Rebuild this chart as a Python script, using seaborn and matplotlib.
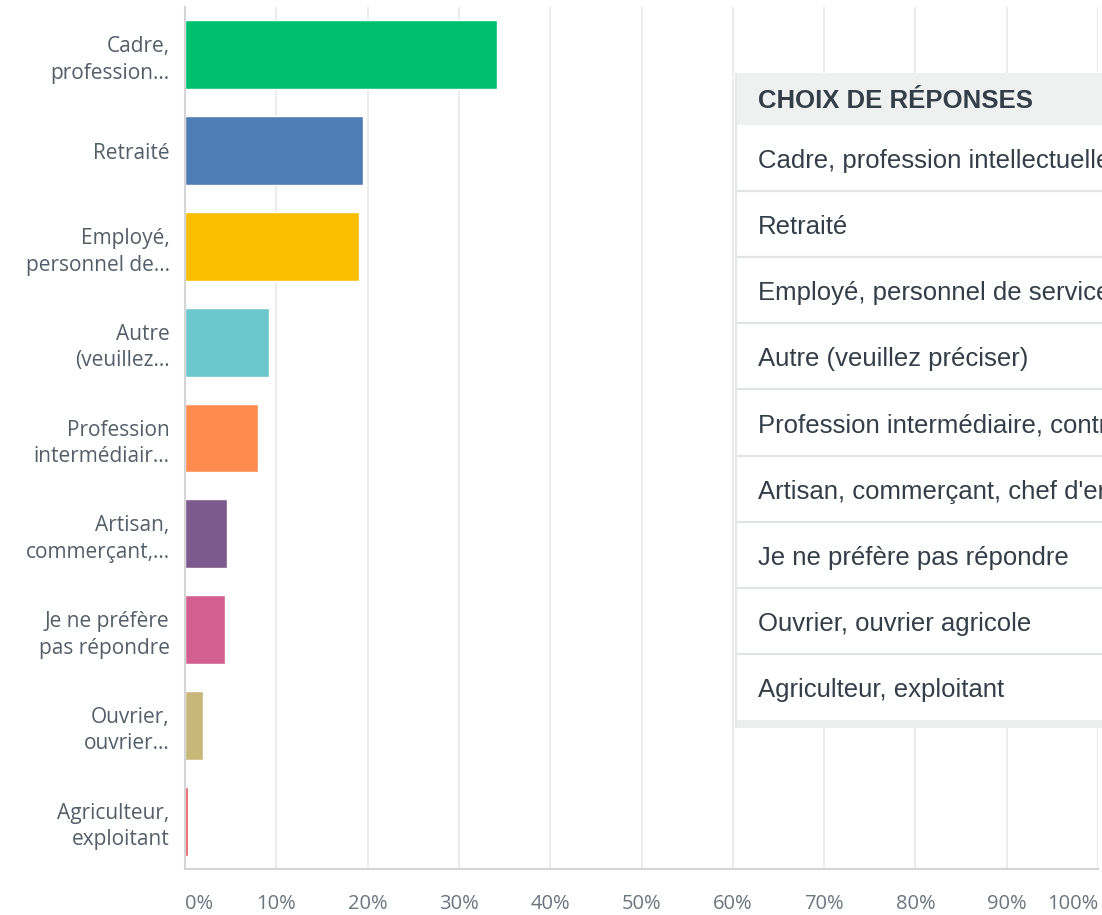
import matplotlib
matplotlib.use("Agg")
import matplotlib.pyplot as plt
from matplotlib.patches import Rectangle
import numpy as np
import seaborn as sns

# Short labels shown on the axis (truncated like the survey tool does)
short_labels = [
    "Cadre,\nprofession...",
    "Retraité",
    "Employé,\npersonnel de...",
    "Autre\n(veuillez...",
    "Profession\nintermédiair...",
    "Artisan,\ncommerçant,...",
    "Je ne préfère\npas répondre",
    "Ouvrier,\nouvrier...",
    "Agriculteur,\nexploitant",
]
# Full answer choices shown in the table overlay
full_labels = [
    "Cadre, profession intellectuelle supérieure",
    "Retraité",
    "Employé, personnel de service",
    "Autre (veuillez préciser)",
    "Profession intermédiaire, contremaître",
    "Artisan, commerçant, chef d'entreprise",
    "Je ne préfère pas répondre",
    "Ouvrier, ouvrier agricole",
    "Agriculteur, exploitant",
]
percent = [34.2, 19.5, 19.1, 9.2, 8.0, 4.6, 4.4, 2.0, 0.3]
colors = ["#00bf6f", "#507cb6", "#f9be00", "#6bc8cd", "#ff8b4f",
          "#7d5a8d", "#d25f90", "#c7b879", "#e8505b"]
xticks = list(range(0, 101, 10))
table_header = "CHOIX DE RÉPONSES"

sns.set_style("white")
plt.rcParams["font.family"] = ["Open Sans", "DejaVu Sans"]

W, H = 1102, 915
fig = plt.figure(figsize=(W / 100, H / 100), dpi=100)
ax = fig.add_axes([185 / W, 1 - 869 / H, 913 / W, 862 / H])

sns.barplot(x=percent, y=short_labels, hue=short_labels, palette=colors,
            legend=False, width=0.72, saturation=1, orient="h", ax=ax)

ax.set_xlim(0, 100)
ax.set_ylim(8.5, -0.5)
ax.set_xticks(xticks)
ax.set_xticklabels([f"{v}%" for v in xticks])
ax.xaxis.grid(True, color="#ececec", lw=1.3)
ax.yaxis.grid(False)
ax.set_axisbelow(True)
ax.set_xlabel("")
ax.set_ylabel("")
for s in ["top", "right"]:
    ax.spines[s].set_visible(False)
for s in ["left", "bottom"]:
    ax.spines[s].set_color("#d4d4d4")
    ax.spines[s].set_linewidth(1.5)
ax.tick_params(axis="x", length=0, pad=18, labelsize=14.5, labelcolor="#6b757e")
ax.tick_params(axis="y", length=0, pad=11, labelsize=15, labelcolor="#545e69")
for t in ax.get_yticklabels():
    t.set_linespacing(1.35)
xl = ax.get_xticklabels()
xl[0].set_ha("left")
xl[-1].set_ha("right")

# Table overlay on the right
tax = fig.add_axes([735 / W, 1 - 728 / H, (W - 735) / W, 655 / H])
tax.set_xlim(0, W - 735)
tax.set_ylim(655, 0)
tax.set_xticks([])
tax.set_yticks([])
for s in tax.spines.values():
    s.set_visible(False)
tax.set_facecolor("white")

head_h, row_h = 52, 66.1
tab_font = ["Liberation Sans", "DejaVu Sans"]
tax.add_patch(Rectangle((0, 0), W - 735, head_h, color="#eff0f0", lw=0))
tax.text(23, head_h / 2 + 2, table_header, fontsize=18.5, fontweight="bold",
         family=tab_font, color="#333e48", va="center")
for i, lab in enumerate(full_labels):
    yc = head_h + row_h * (i + 0.5)
    tax.text(23, yc + 3, lab, fontsize=18.5, family=tab_font,
             color="#333e48", va="center", clip_on=True)
    if i > 0:
        tax.axhline(head_h + row_h * i, color="#e2e4e4", lw=1.6)
tax.add_patch(Rectangle((0, head_h + row_h * len(full_labels)), W - 735, 8,
                        color="#eceeee", lw=0))
tax.axvline(1, color="#e6e8e8", lw=1.6)

fig.savefig("out.png", dpi=100)
